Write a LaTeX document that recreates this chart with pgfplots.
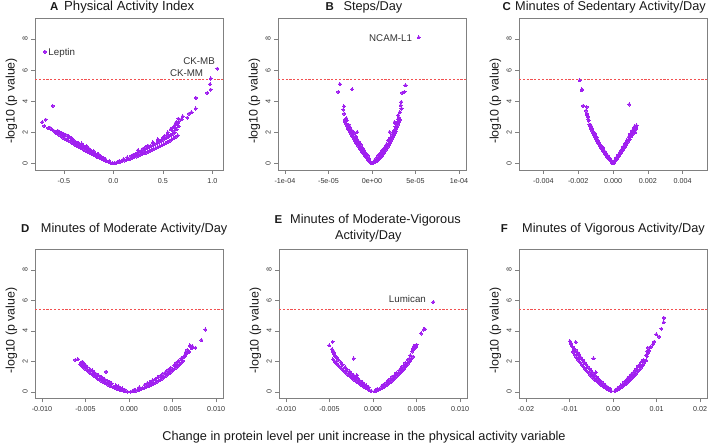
\documentclass[border=0pt]{standalone}
\usepackage{pgfplots}
\pgfplotsset{compat=1.18}
\usepackage{fontspec}
\setmainfont{Liberation Sans}
\definecolor{pt}{RGB}{160,32,240}
\definecolor{threshcol}{RGB}{242,80,80}
\tikzset{ann/.style={font=\fontsize{9.8}{11}\selectfont, text=black!80, inner sep=0pt}}
\pgfplotsset{
 vp/.style={
  scale only axis, width=188bp,
  ymin=-0.42, ymax=9.35,
  axis line style={draw=black!50, line width=0.6bp},
  every tick/.style={draw=black!50, line width=0.6bp},
  tick align=outside, major tick length=4bp,
  xtick pos=bottom, ytick pos=left,
  ytick={0,2,4,6,8}, yticklabels={0,2,4,6,8},
  yticklabel style={xshift=-3.3bp, rotate=90, anchor=base, font=\fontsize{7.2}{8}\selectfont, text=black!80},
  xticklabel style={anchor=base, font=\fontsize{7.2}{8}\selectfont, text=black!80, yshift=-9.5bp},
  ylabel={-log10 (p value)},
  ylabel style={at={(axis description cs:-0.125,0.454)}, anchor=center, font=\fontsize{12.4}{14}\selectfont, text=black!90},
  scaled x ticks=false, clip=false,
  /pgf/number format/assume math mode=true,
 },
 pts/.style={color=pt, only marks, mark=*, mark size=1.55bp, mark options={draw=pt, line width=0pt, fill=pt}},
}
\begin{document}
\begin{tikzpicture}[x=1bp,y=1bp]
\useasboundingbox (0,0) rectangle (709,444);
% ---------------- A
\begin{axis}[vp, at={(35bp,274bp)}, anchor=south west, height=152bp,
 xmin=-0.791, xmax=1.108, xtick={-0.5,0,0.5,1}, xticklabels={-0.5,0.0,0.5,1.0}]
\addplot[draw=threshcol, dash pattern=on 2.2bp off 1.6bp, line width=1bp] coordinates {(-0.791,5.4) (1.108,5.4)};
\addplot[pts] coordinates {
(-0.01,0.02) (-0.03,0.06) (-0.05,0.11) (-0.07,0.16) (-0.09,0.21) (-0.11,0.27) (-0.13,0.33) (-0.15,0.39) (-0.17,0.45) (-0.19,0.52) (-0.21,0.58) (-0.23,0.65) (-0.25,0.72) (-0.27,0.79) (-0.29,0.86) (-0.31,0.93) (-0.33,1.0) (-0.35,1.07) (-0.37,1.14) (-0.39,1.21) (-0.41,1.29) (-0.43,1.37) (-0.45,1.45) (-0.47,1.52) (-0.49,1.6) (-0.51,1.67) (-0.53,1.76) (-0.55,1.85) (-0.57,1.93) (-0.59,2.01)
(-0.04,0.15) (-0.08,0.28) (-0.12,0.42) (-0.16,0.58) (-0.20,0.72) (-0.24,0.88) (-0.28,1.05) (-0.32,1.18) (-0.36,1.32) (-0.40,1.50) (-0.44,1.68) (-0.48,1.85) (-0.52,1.95) (-0.18,0.62) (-0.22,0.78) (-0.26,0.92) (-0.30,1.12) (-0.34,1.25) (-0.38,1.38) (-0.42,1.55) (-0.46,1.62) (-0.50,1.80) (-0.14,0.50) (-0.10,0.36) (-0.54,2.0) (-0.56,2.1)
(-0.20,0.8) (-0.30,1.05) (-0.40,1.4) (-0.45,1.75) (-0.35,1.3) (-0.25,0.98) (-0.15,0.6) (-0.50,1.9) (-0.55,2.05) (-0.42,1.62) (-0.32,1.28)
(-0.60,2.10) (-0.62,2.19) (-0.657,2.28) (-0.697,2.41) (-0.683,2.82) (-0.717,2.66) (-0.612,3.70) (-0.269,1.12) (-0.58,2.05) (-0.64,2.3)
(-0.69,7.18)
(0.01,0.015) (0.03,0.05) (0.05,0.08) (0.07,0.12) (0.09,0.15) (0.11,0.19) (0.13,0.23) (0.15,0.27) (0.17,0.31) (0.19,0.35) (0.21,0.4) (0.23,0.45) (0.25,0.5) (0.27,0.55) (0.29,0.6) (0.31,0.65) (0.33,0.7) (0.35,0.75) (0.37,0.81) (0.39,0.87) (0.41,0.93) (0.43,0.99) (0.45,1.05) (0.47,1.11) (0.49,1.17) (0.51,1.23) (0.53,1.31) (0.55,1.38) (0.57,1.46) (0.59,1.54) (0.61,1.62) (0.63,1.71) (0.65,1.8)
(0.06,0.16) (0.1,0.26) (0.14,0.38) (0.18,0.48) (0.22,0.58) (0.26,0.7) (0.3,0.82) (0.34,0.98) (0.38,1.1) (0.42,1.25) (0.46,1.38) (0.5,1.52) (0.54,1.66) (0.58,1.8) (0.62,2.0) (0.64,2.2) (0.2,0.55) (0.24,0.66) (0.28,0.8) (0.32,0.92) (0.36,1.05) (0.40,1.18) (0.44,1.3) (0.48,1.45) (0.52,1.6) (0.56,1.72) (0.6,1.9) (0.3,0.95) (0.33,1.08) (0.45,1.5) (0.66,2.4) (0.65,2.55) (0.62,2.3)
(0.35,1.15) (0.4,1.35) (0.5,1.65) (0.55,1.85) (0.6,2.1) (0.45,1.55) (0.25,0.85) (0.62,2.45) (0.63,2.6) (0.66,2.7) (0.6,2.3) (0.55,2.0) (0.58,2.2) (0.52,1.78)
(0.64,2.66) (0.657,2.88) (0.69,2.85) (0.70,3.03) (0.747,2.95) (0.765,3.2) (0.79,3.3) (0.832,3.53) (0.835,4.21) (0.95,4.54) (0.984,4.75) (0.977,5.1) (0.984,5.46) (1.05,6.1)
};
\node[ann, anchor=base west] at (axis cs:-0.657,6.97) {Leptin};
\node[ann, anchor=base east] at (axis cs:1.027,6.39) {CK-MB};
\node[ann, anchor=base east] at (axis cs:0.909,5.61) {CK-MM};
\end{axis}
% ---------------- B
\begin{axis}[vp, at={(278bp,274bp)}, anchor=south west, height=152bp,
 xmin=-1.08e-4, xmax=1.08e-4, xtick={-1e-4,-5e-5,0,5e-5,1e-4}, xticklabels={-1e-04,-5e-05,0e+00,5e-05,1e-04}]
\addplot[draw=threshcol, dash pattern=on 2.2bp off 1.6bp, line width=1bp] coordinates {(-1.08e-4,5.4) (1.08e-4,5.4)};
\addplot[pts] coordinates {
(-0.1e-5,0.04) (-0.2e-5,0.10) (-0.3e-5,0.16) (-0.4e-5,0.22) (-0.5e-5,0.28) (-0.6e-5,0.35) (-0.7e-5,0.43) (-0.8e-5,0.50) (-0.9e-5,0.58) (-1.0e-5,0.65) (-1.1e-5,0.73) (-1.2e-5,0.81) (-1.3e-5,0.89) (-1.4e-5,0.97) (-1.5e-5,1.05) (-1.6e-5,1.14) (-1.7e-5,1.23) (-1.8e-5,1.32) (-1.9e-5,1.41) (-2.0e-5,1.50) (-2.1e-5,1.60) (-2.2e-5,1.70) (-2.3e-5,1.80) (-2.4e-5,1.90) (-2.5e-5,2.00) (-2.6e-5,2.10) (-2.7e-5,2.21) (-2.8e-5,2.32) (-2.9e-5,2.43) (-3.0e-5,2.55) (-3.1e-5,2.68)
(-0.3e-5,0.30) (-0.5e-5,0.48) (-0.7e-5,0.65) (-0.9e-5,0.85) (-1.1e-5,1.00) (-1.3e-5,1.20) (-1.5e-5,1.38) (-1.7e-5,1.55) (-1.9e-5,1.75) (-2.1e-5,1.95) (-2.3e-5,2.10) (-2.5e-5,2.30) (-2.7e-5,2.50) (-2.9e-5,2.75) (-3.0e-5,2.85) (-0.6e-5,0.60) (-1.0e-5,0.95) (-1.4e-5,1.30) (-1.8e-5,1.70) (-2.2e-5,2.05) (-2.6e-5,2.40)
(-3.12e-5,2.82) (-3.2e-5,3.20) (-3.31e-5,3.46) (-3.23e-5,3.68) (-3.88e-5,4.60) (-3.69e-5,5.10) (-2.29e-5,4.77) (-1.71e-5,2.02) (-3.05e-5,2.70) (-2.95e-5,2.90)
(0.1e-5,0.02) (0.2e-5,0.05) (0.3e-5,0.08) (0.4e-5,0.11) (0.5e-5,0.15) (0.6e-5,0.19) (0.7e-5,0.24) (0.8e-5,0.29) (0.9e-5,0.34) (1.0e-5,0.40) (1.1e-5,0.47) (1.2e-5,0.55) (1.3e-5,0.63) (1.4e-5,0.71) (1.5e-5,0.80) (1.6e-5,0.89) (1.7e-5,0.98) (1.8e-5,1.07) (1.9e-5,1.16) (2.0e-5,1.25) (2.1e-5,1.36) (2.2e-5,1.47) (2.3e-5,1.58) (2.4e-5,1.69) (2.5e-5,1.80) (2.6e-5,1.94) (2.7e-5,2.08) (2.8e-5,2.22) (2.9e-5,2.36) (3.0e-5,2.50) (3.1e-5,2.65) (3.2e-5,2.80)
(0.3e-5,0.20) (0.5e-5,0.35) (0.7e-5,0.50) (0.9e-5,0.60) (1.1e-5,0.75) (1.3e-5,0.90) (1.5e-5,1.05) (1.7e-5,1.25) (1.9e-5,1.45) (2.1e-5,1.65) (2.3e-5,1.85) (2.5e-5,2.10) (2.7e-5,2.35) (2.9e-5,2.65) (3.0e-5,2.85) (0.8e-5,0.55) (1.2e-5,0.85) (1.6e-5,1.15) (2.0e-5,1.55) (2.4e-5,2.00) (2.8e-5,2.50)
(3.01e-5,3.10) (3.39e-5,3.53) (3.28e-5,3.74) (3.36e-5,3.95) (3.47e-5,4.54) (3.74e-5,4.60) (3.85e-5,5.03) (2.02e-5,2.02) (2.59e-5,2.66) (3.1e-5,2.95) (3.2e-5,3.30)
(5.37e-5,8.10)
};
\node[ann, anchor=base east] at (axis cs:4.62e-5,7.83) {NCAM-L1};
\end{axis}
% ---------------- C
\begin{axis}[vp, at={(519bp,274bp)}, anchor=south west, height=152bp,
 xmin=-0.0054, xmax=0.0054, xtick={-0.004,-0.002,0,0.002,0.004}, xticklabels={-0.004,-0.002,0.000,0.002,0.004}]
\addplot[draw=threshcol, dash pattern=on 2.2bp off 1.6bp, line width=1bp] coordinates {(-0.0054,5.4) (0.0054,5.4)};
\addplot[pts] coordinates {
(-0.04e-3,0.04) (-0.08e-3,0.09) (-0.12e-3,0.14) (-0.16e-3,0.19) (-0.2e-3,0.24) (-0.24e-3,0.3) (-0.28e-3,0.35) (-0.32e-3,0.41) (-0.36e-3,0.47) (-0.4e-3,0.53) (-0.44e-3,0.59) (-0.48e-3,0.66) (-0.52e-3,0.72) (-0.56e-3,0.79) (-0.6e-3,0.86) (-0.64e-3,0.93) (-0.68e-3,1.0) (-0.72e-3,1.08) (-0.76e-3,1.15) (-0.8e-3,1.23) (-0.84e-3,1.31) (-0.88e-3,1.39) (-0.92e-3,1.47) (-0.96e-3,1.56) (-1.0e-3,1.65) (-1.04e-3,1.73) (-1.08e-3,1.82) (-1.12e-3,1.92) (-1.16e-3,2.01) (-1.2e-3,2.1) (-1.24e-3,2.2) (-1.28e-3,2.3) (-1.32e-3,2.4) (-1.36e-3,2.5)
(-0.1e-3,0.2) (-0.2e-3,0.35) (-0.3e-3,0.5) (-0.4e-3,0.65) (-0.5e-3,0.8) (-0.6e-3,1.0) (-0.7e-3,1.15) (-0.8e-3,1.35) (-0.9e-3,1.55) (-1.0e-3,1.75) (-1.1e-3,2.0) (-1.2e-3,2.25) (-1.3e-3,2.5) (-1.4e-3,2.75) (-0.65e-3,1.1) (-0.95e-3,1.7) (-1.05e-3,1.9) (-1.25e-3,2.4)
(-1.91e-3,5.35) (-1.79e-3,4.77) (-1.80e-3,4.7) (-1.72e-3,3.7) (-1.52e-3,3.63) (-1.55e-3,3.4) (-1.5e-3,3.2) (-1.45e-3,3.0) (-1.42e-3,2.85) (-1.48e-3,3.1)
(0.04e-3,0.04) (0.08e-3,0.09) (0.12e-3,0.15) (0.16e-3,0.21) (0.2e-3,0.27) (0.24e-3,0.33) (0.28e-3,0.39) (0.32e-3,0.45) (0.36e-3,0.52) (0.4e-3,0.59) (0.44e-3,0.66) (0.48e-3,0.73) (0.52e-3,0.8) (0.56e-3,0.87) (0.6e-3,0.94) (0.64e-3,1.0) (0.68e-3,1.07) (0.72e-3,1.13) (0.76e-3,1.2) (0.8e-3,1.3) (0.84e-3,1.39) (0.88e-3,1.48) (0.92e-3,1.57) (0.96e-3,1.66) (1.0e-3,1.75) (1.04e-3,1.84) (1.08e-3,1.93) (1.12e-3,2.02) (1.16e-3,2.1) (1.2e-3,2.2) (1.24e-3,2.28)
(0.1e-3,0.2) (0.2e-3,0.38) (0.3e-3,0.55) (0.4e-3,0.72) (0.5e-3,0.9) (0.6e-3,1.1) (0.7e-3,1.3) (0.8e-3,1.5) (0.9e-3,1.7) (1.0e-3,1.9) (1.1e-3,2.1) (1.2e-3,2.3) (1.25e-3,2.4) (1.3e-3,2.2) (1.28e-3,2.0) (1.32e-3,2.3) (1.15e-3,1.9) (1.05e-3,1.75) (0.95e-3,1.55)
(1.35e-3,2.45) (0.93e-3,3.79)
};
\end{axis}
% ---------------- D
\begin{axis}[vp, at={(35bp,45.7bp)}, anchor=south west, height=149bp,
 xmin=-0.0108, xmax=0.0108, xtick={-0.01,-0.005,0,0.005,0.01}, xticklabels={-0.010,-0.005,0.000,0.005,0.010}]
\addplot[draw=threshcol, dash pattern=on 2.2bp off 1.6bp, line width=1bp] coordinates {(-0.0108,5.4) (0.0108,5.4)};
\addplot[pts] coordinates {
(-0.2e-3,0.022) (-0.4e-3,0.046) (-0.6e-3,0.074) (-0.8e-3,0.106) (-1.0e-3,0.14) (-1.2e-3,0.178) (-1.4e-3,0.218) (-1.6e-3,0.262) (-1.8e-3,0.31) (-2.0e-3,0.36) (-2.2e-3,0.414) (-2.4e-3,0.47) (-2.6e-3,0.53) (-2.8e-3,0.594) (-3.0e-3,0.66) (-3.2e-3,0.73) (-3.4e-3,0.80) (-3.6e-3,0.88) (-3.8e-3,0.96) (-4.0e-3,1.04) (-4.2e-3,1.13) (-4.4e-3,1.21) (-4.6e-3,1.31) (-4.8e-3,1.40) (-5.0e-3,1.5) (-5.2e-3,1.6) (-5.4e-3,1.71)
(-0.5e-3,0.15) (-1.0e-3,0.28) (-1.5e-3,0.42) (-2.0e-3,0.55) (-2.5e-3,0.72) (-3.0e-3,0.9) (-3.5e-3,1.08) (-4.0e-3,1.28) (-4.5e-3,1.5) (-5.0e-3,1.75) (-5.3e-3,1.95) (-5.2e-3,1.85) (-4.8e-3,1.62) (-4.2e-3,1.4) (-3.8e-3,1.18) (-3.2e-3,0.98) (-2.8e-3,0.82) (-2.2e-3,0.65) (-1.2e-3,0.36) (-0.8e-3,0.22) (-5.5e-3,1.9)
(-6.16e-3,2.1) (-5.86e-3,2.14) (-5.4e-3,1.97) (-5.32e-3,1.75) (-2.64e-3,1.32) (-5.6e-3,1.8)
(0.2e-3,0.018) (0.4e-3,0.038) (0.6e-3,0.062) (0.8e-3,0.09) (1.0e-3,0.12) (1.2e-3,0.154) (1.4e-3,0.19) (1.6e-3,0.23) (1.8e-3,0.274) (2.0e-3,0.32) (2.2e-3,0.37) (2.4e-3,0.42) (2.6e-3,0.48) (2.8e-3,0.54) (3.0e-3,0.60) (3.2e-3,0.67) (3.4e-3,0.73) (3.6e-3,0.81) (3.8e-3,0.88) (4.0e-3,0.96) (4.2e-3,1.04) (4.4e-3,1.13) (4.6e-3,1.21) (4.8e-3,1.31) (5.0e-3,1.4) (5.2e-3,1.50) (5.4e-3,1.60) (5.6e-3,1.70) (5.8e-3,1.81) (6.0e-3,1.92) (6.2e-3,2.03)
(0.6e-3,0.15) (1.2e-3,0.3) (1.8e-3,0.45) (2.4e-3,0.62) (3.0e-3,0.82) (3.6e-3,1.05) (4.2e-3,1.3) (4.8e-3,1.58) (5.4e-3,1.9) (6.0e-3,2.2) (6.4e-3,2.4) (6.6e-3,2.55) (5.2e-3,1.75) (4.5e-3,1.45) (3.9e-3,1.2) (3.3e-3,0.95) (2.7e-3,0.75) (2.1e-3,0.55) (5.7e-3,2.05) (6.3e-3,2.3)
(6.48e-3,2.36) (6.5e-3,2.6) (6.7e-3,2.75) (6.86e-3,2.68) (7.06e-3,2.97) (7.25e-3,3.0) (6.9e-3,2.6) (7.2e-3,2.85) (7.63e-3,2.9) (8.32e-3,3.4) (8.78e-3,4.09) (6.67e-3,2.55) (7.0e-3,3.05)
};
\end{axis}
% ---------------- E
\begin{axis}[vp, at={(279bp,45.7bp)}, anchor=south west, height=149bp,
 xmin=-0.0108, xmax=0.0108, xtick={-0.01,-0.005,0,0.005,0.01}, xticklabels={-0.010,-0.005,0.000,0.005,0.010}]
\addplot[draw=threshcol, dash pattern=on 2.2bp off 1.6bp, line width=1bp] coordinates {(-0.0108,5.4) (0.0108,5.4)};
\addplot[pts] coordinates {
(-0.2e-3,0.058) (-0.4e-3,0.118) (-0.6e-3,0.182) (-0.8e-3,0.25) (-1.0e-3,0.32) (-1.2e-3,0.394) (-1.4e-3,0.47) (-1.6e-3,0.55) (-1.8e-3,0.634) (-2.0e-3,0.72) (-2.2e-3,0.81) (-2.4e-3,0.90) (-2.6e-3,1.0) (-2.8e-3,1.10) (-3.0e-3,1.2) (-3.2e-3,1.31) (-3.4e-3,1.41) (-3.6e-3,1.53) (-3.8e-3,1.64) (-4.0e-3,1.76) (-4.2e-3,1.88) (-4.4e-3,2.0) (-4.6e-3,2.13)
(-0.5e-3,0.3) (-1.0e-3,0.5) (-1.5e-3,0.72) (-2.0e-3,0.95) (-2.5e-3,1.2) (-3.0e-3,1.48) (-3.5e-3,1.78) (-4.0e-3,2.1) (-4.4e-3,2.4) (-4.6e-3,2.6) (-4.2e-3,2.25) (-3.7e-3,1.95) (-3.2e-3,1.62) (-2.7e-3,1.35) (-2.2e-3,1.08) (-1.7e-3,0.85) (-1.2e-3,0.62) (-0.8e-3,0.42)
(-5.02e-3,3.05) (-4.64e-3,3.29) (-4.57e-3,2.68) (-4.5e-3,2.55) (-4.45e-3,2.45) (-4.3e-3,2.3) (-2.22e-3,2.19) (-1.84e-3,1.1) (-4.7e-3,2.8)
(0.2e-3,0.039) (0.4e-3,0.083) (0.6e-3,0.133) (0.8e-3,0.189) (1.0e-3,0.25) (1.2e-3,0.317) (1.4e-3,0.389) (1.6e-3,0.467) (1.8e-3,0.551) (2.0e-3,0.64) (2.2e-3,0.735) (2.4e-3,0.835) (2.6e-3,0.941) (2.8e-3,1.053) (3.0e-3,1.17) (3.2e-3,1.29) (3.4e-3,1.42) (3.6e-3,1.555) (3.8e-3,1.695) (4.0e-3,1.84) (4.2e-3,1.99) (4.4e-3,2.15) (4.6e-3,2.31)
(0.5e-3,0.2) (1.0e-3,0.38) (1.5e-3,0.6) (2.0e-3,0.85) (2.5e-3,1.1) (3.0e-3,1.4) (3.5e-3,1.7) (4.0e-3,2.1) (4.3e-3,2.4) (4.5e-3,2.65) (4.6e-3,2.85) (4.7e-3,3.0) (4.8e-3,2.9) (4.65e-3,2.75) (4.2e-3,2.2) (3.7e-3,1.9) (3.2e-3,1.55) (2.7e-3,1.25) (2.2e-3,1.0) (1.7e-3,0.72) (1.2e-3,0.48)
(5.83e-3,4.09) (5.52e-3,3.83) (5.95e-3,4.12) (4.75e-3,3.0) (4.6e-3,2.8) (5.0e-3,3.1) (4.9e-3,2.95)
(6.93e-3,5.89)
};
\node[ann, anchor=base east] at (axis cs:0.0061,5.83) {Lumican};
\end{axis}
% ---------------- F
\begin{axis}[vp, at={(519bp,45.7bp)}, anchor=south west, height=149bp,
 xmin=-0.0216, xmax=0.0216, xtick={-0.02,-0.01,0,0.01,0.02}, xticklabels={-0.02,-0.01,0.00,0.01,0.02}]
\addplot[draw=threshcol, dash pattern=on 2.2bp off 1.6bp, line width=1bp] coordinates {(-0.0216,5.4) (0.0216,5.4)};
\addplot[pts] coordinates {
(-0.4e-3,0.051) (-0.8e-3,0.108) (-1.2e-3,0.17) (-1.6e-3,0.238) (-2.0e-3,0.312) (-2.4e-3,0.392) (-2.8e-3,0.477) (-3.2e-3,0.568) (-3.6e-3,0.665) (-4.0e-3,0.768) (-4.4e-3,0.876) (-4.8e-3,0.99) (-5.2e-3,1.11) (-5.6e-3,1.236) (-6.0e-3,1.368) (-6.4e-3,1.505) (-6.8e-3,1.648) (-7.2e-3,1.797) (-7.6e-3,1.952) (-8.0e-3,2.112) (-8.4e-3,2.278) (-8.8e-3,2.45) (-9.2e-3,2.63)
(-0.6e-3,0.2) (-1.4e-3,0.35) (-2.2e-3,0.55) (-3.0e-3,0.75) (-3.8e-3,0.98) (-4.6e-3,1.25) (-5.4e-3,1.52) (-6.2e-3,1.8) (-7.0e-3,2.1) (-7.8e-3,2.45) (-8.6e-3,2.75) (-9.0e-3,2.85) (-8.2e-3,2.6) (-7.4e-3,2.25) (-6.6e-3,1.95) (-5.8e-3,1.65) (-5.0e-3,1.38) (-4.2e-3,1.1) (-3.4e-3,0.85) (-2.6e-3,0.65) (-1.8e-3,0.45) (-1.0e-3,0.25)
(-9.89e-3,3.33) (-9.58e-3,3.12) (-8.57e-3,3.27) (-8.96e-3,2.79) (-7.8e-3,2.47) (-4.49e-3,2.2) (-3.94e-3,1.28) (-9.7e-3,3.2) (-9.3e-3,2.95)
(0.4e-3,0.051) (0.8e-3,0.109) (1.2e-3,0.173) (1.6e-3,0.243) (2.0e-3,0.32) (2.4e-3,0.403) (2.8e-3,0.493) (3.2e-3,0.589) (3.6e-3,0.691) (4.0e-3,0.8) (4.4e-3,0.915) (4.8e-3,1.037) (5.2e-3,1.165) (5.6e-3,1.3) (6.0e-3,1.44) (6.4e-3,1.587) (6.8e-3,1.74) (7.2e-3,1.9) (7.6e-3,2.067)
(0.6e-3,0.15) (1.4e-3,0.3) (2.2e-3,0.5) (3.0e-3,0.75) (3.8e-3,1.0) (4.6e-3,1.25) (5.4e-3,1.5) (6.2e-3,1.8) (7.0e-3,2.1) (7.6e-3,2.4) (8.0e-3,2.55) (5.0e-3,1.4) (5.8e-3,1.7) (6.6e-3,2.0) (4.2e-3,1.15) (3.4e-3,0.9) (2.6e-3,0.65) (1.8e-3,0.42) (1.0e-3,0.22)
(7.88e-3,2.68) (7.8e-3,2.35) (8.3e-3,2.7) (8.7e-3,2.95) (9.18e-3,3.12) (9.5e-3,3.3) (9.96e-3,3.77) (10.58e-3,3.62) (11.1e-3,4.14) (11.63e-3,4.57) (11.7e-3,4.85) (8.0e-3,2.9)
};
\end{axis}
% ---------------- titles and common label
\begin{scope}[every node/.style={inner sep=0pt, font=\fontsize{12.8}{14}\selectfont, text=black!90}]
\tikzset{lt/.style={anchor=base east, font=\fontsize{11.5}{13}\selectfont\bfseries}}
\node[lt] at (58.5,433.5) {A};
\node[anchor=base west, font=\fontsize{13.2}{14}\selectfont] at (64,433.5) {Physical Activity Index};
\node[lt] at (334,433.5) {B};
\node[anchor=base west] at (343.3,433.5) {Steps/Day};
\node[lt] at (511,433.5) {C};
\node[anchor=base west] at (515,433.5) {Minutes of Sedentary Activity/Day};
\node[lt] at (29.5,211.3) {D};
\node[anchor=base west] at (40.7,211.3) {Minutes of Moderate Activity/Day};
\node[lt] at (282.5,220.7) {E};
\node[anchor=base west] at (290,220.7) {Minutes of Moderate-Vigorous};
\node[anchor=base] at (368.3,204) {Activity/Day};
\node[lt] at (508,211.3) {F};
\node[anchor=base west] at (522,211.3) {Minutes of Vigorous Activity/Day};
\node[anchor=base] at (364,3.5) {Change in protein level per unit increase in the physical activity variable};
\end{scope}
\end{tikzpicture}
\end{document}
